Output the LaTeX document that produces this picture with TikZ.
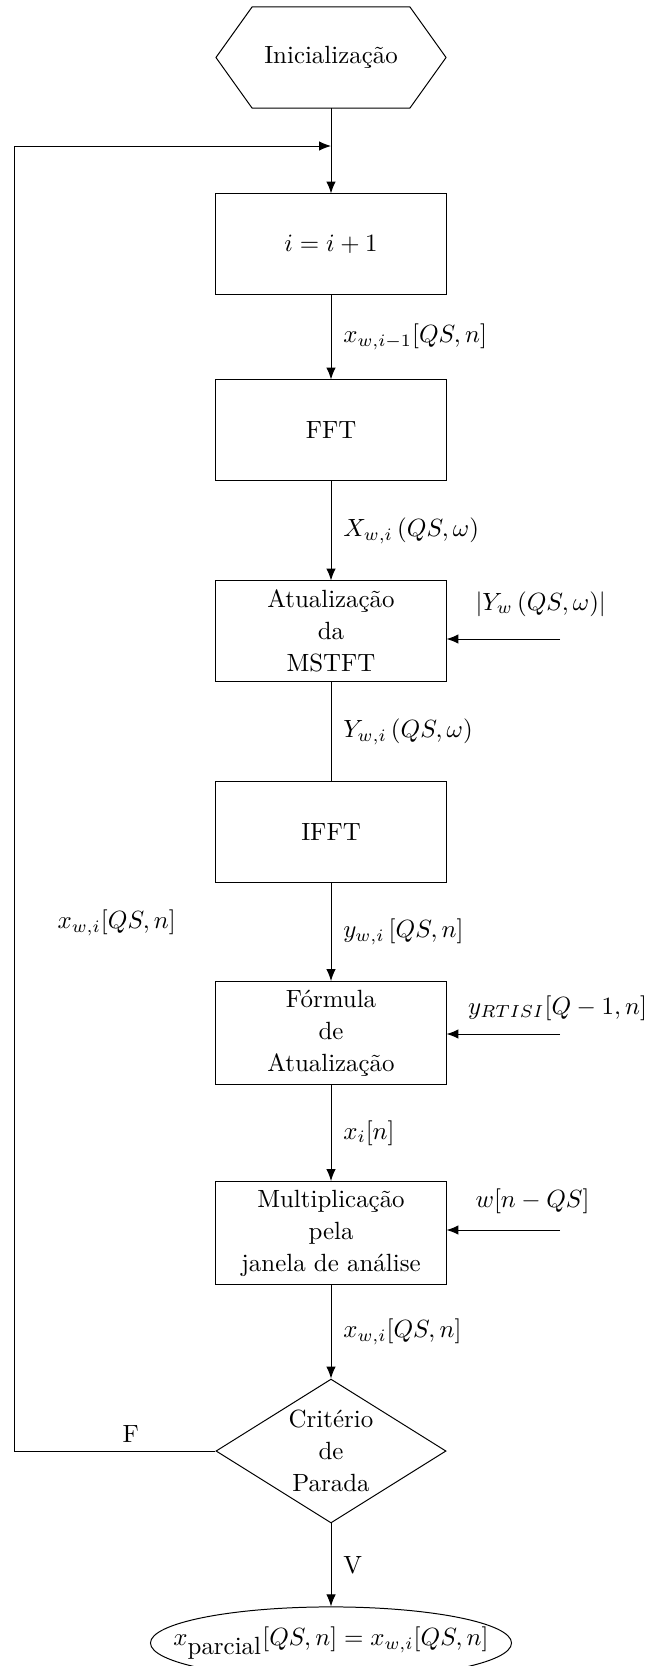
\documentclass[tikz,border=0pt]{standalone}
\usetikzlibrary{arrows.meta,shapes.geometric}
\begin{document}
\begin{tikzpicture}[x=0.4016pt, y=-0.4016pt,
  bloco/.style={draw, rectangle, minimum width=92.4pt, minimum height=40.2pt, align=center, font=\linespread{1.07}\selectfont},
  seta/.style={-{Latex[length=4.8pt, width=3.8pt]}},
  rotulo/.style={right, xshift=1.4pt}]
\useasboundingbox (0,0) rectangle (650,1666);

% Inicio (hexagono)
\node[minimum width=92.4pt, minimum height=40.6pt, outer sep=0pt] (ini) at (331,57.5) {Inicialização};
\draw (ini.west) -- ([xshift=14.5pt]ini.north west) -- ([xshift=-14.5pt]ini.north east)
  -- (ini.east) -- ([xshift=-14.5pt]ini.south east) -- ([xshift=14.5pt]ini.south west) -- cycle;

% Blocos
\node[bloco] (incr) at (331,244) {$i=i+1$};
\node[bloco] (fft) at (331,430) {FFT};
\node[bloco] (mstft) at (331,631) {Atualização\\da\\MSTFT};
\node[bloco] (ifft) at (331,832) {IFFT};
\node[bloco] (form) at (331,1033) {Fórmula\\de\\Atualização};
\node[bloco] (mult) at (331,1233) {Multiplicação\\pela\\janela de análise};

% Decisao e saida
\node[diamond, draw, minimum width=92.4pt, minimum height=57.8pt, inner sep=0pt, shape aspect=1.6,
  align=center, font=\linespread{1.07}\selectfont] (crit) at (331,1451) {Critério\\de\\Parada};
\node[ellipse, draw, minimum width=145pt, minimum height=29pt, inner sep=0pt] (res) at (331,1643)
  {\makebox[80pt]{$x_{\mbox{parcial}}[QS,n] = x_{w,i}[QS,n]$}};

% Setas principais
\draw[seta] (ini.south) -- (incr.north);
\draw[seta] (incr) -- node[rotulo] (lxa) {$x_{w,i-1}[QS,n]$} (fft);
\draw[seta] (fft) -- node[rotulo] (lXw) {$X_{w,i}\left(QS,\omega\right)$} (mstft);
\draw (mstft) -- node[rotulo] (lYw) {$Y_{w,i}\left(QS,\omega\right)$} (ifft);
\draw[seta] (ifft) -- node[rotulo] (lyw) {$y_{w,i}\left[QS,n\right]$} (form);
\draw[seta] (form) -- node[rotulo] (lxi) {$x_i[n]$} (mult);
\draw[seta] (mult) -- node[rotulo] (lxw) {$x_{w,i}[QS,n]$} (crit);
\draw[seta] (crit) -- node[rotulo] (lV) {V} (res);

% Laco de realimentacao
\coordinate (merge) at (331,146);
\coordinate (trilho) at (14,146);
\draw[seta] (crit.west) -- node[above, pos=0.42] (lF) {F} (crit.west -| trilho) -- (trilho) -- (merge);
\node (lloop) at (116.7,922.7) {$x_{w,i}[QS,n]$};

% Entradas laterais
\coordinate (inmag) at (560,639);
\coordinate (inrtisi) at (560,1034);
\coordinate (injan) at (560,1230);
\draw[seta] (inmag) -- (inmag -| mstft.east);
\draw[seta] (inrtisi) -- (inrtisi -| form.east);
\draw[seta] (injan) -- (injan -| mult.east);
\node[anchor=west] (lmag) at (466.7,604) {$\left|Y_w\left(QS,\omega\right)\right|$};
\node[anchor=east, inner xsep=1pt] (lrtisi) at (650,1008) {$y_{RTISI}[Q-1,n]$};
\node[anchor=west] (ljan) at (466.7,1201.7) {$w[n-QS]$};

\end{tikzpicture}
\end{document}
